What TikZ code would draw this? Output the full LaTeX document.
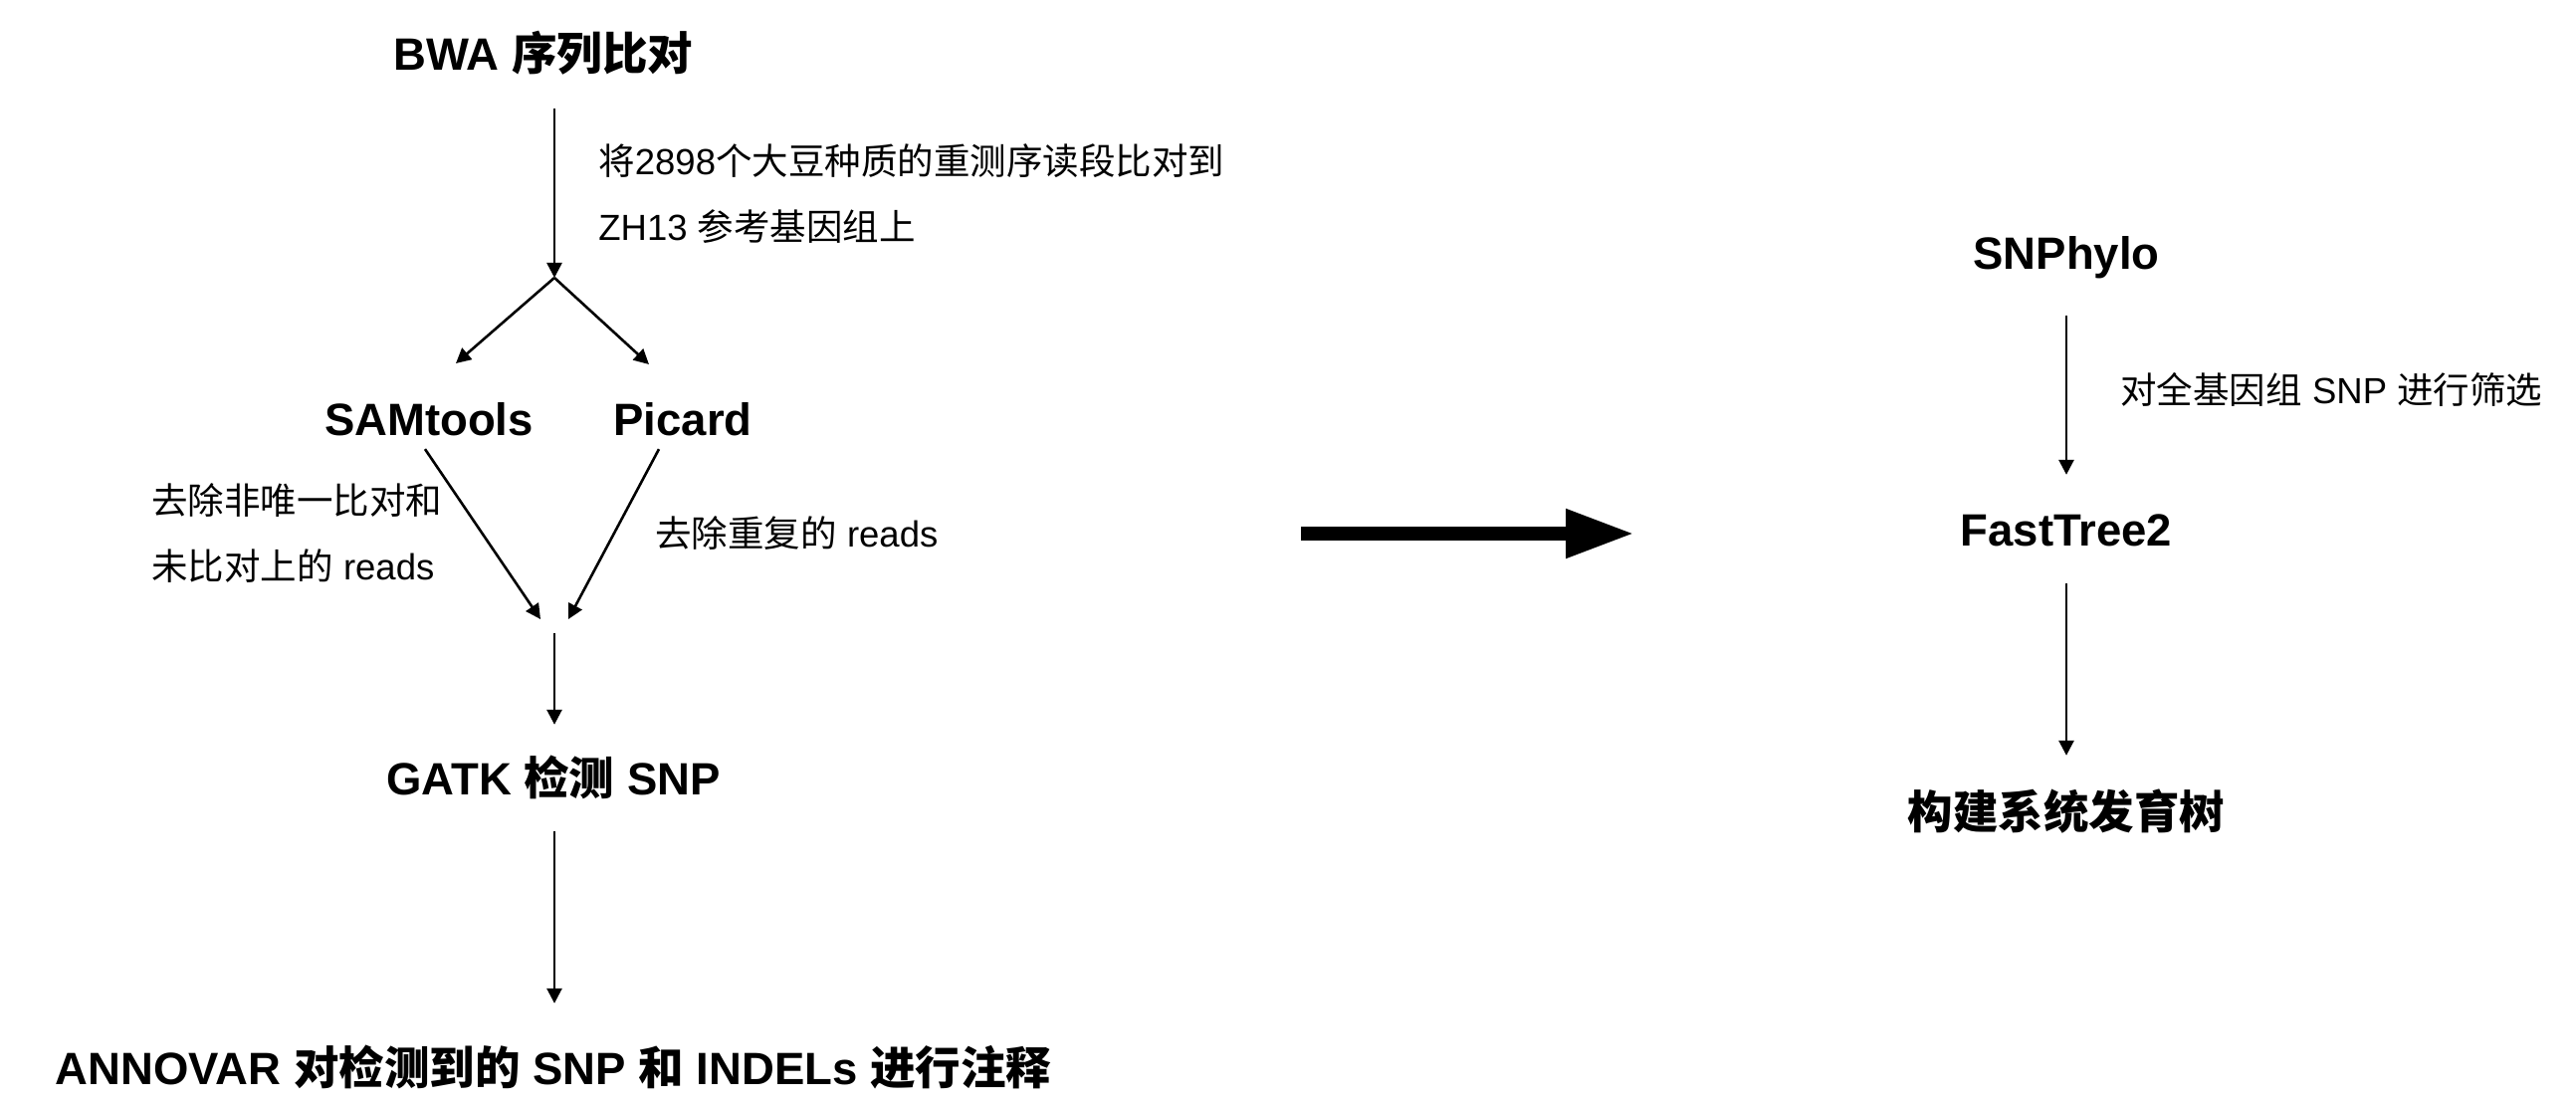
\documentclass[tikz,border=0pt]{standalone}
\usepackage{fontspec}
\setmainfont{Liberation Sans}
\newfontfamily\cjk{Noto Sans CJK SC}
\newcommand\zh[1]{{\cjk #1}}
\usetikzlibrary{arrows.meta}
\begin{document}
\begin{tikzpicture}[x=0.5pt,y=-0.5pt,
  title/.style={font=\fontsize{22.75}{27}\selectfont\bfseries, inner sep=0, text height=18.2pt, text depth=4.55pt},
  lab/.style={font=\fontsize{18.25}{33}\selectfont, inner sep=0, align=left, anchor=west},
  arr/.style={line width=1.3pt, -{Triangle[length=7.5pt,width=7.5pt]}},
  bigarr/.style={line width=7pt, -{Triangle[length=34.5pt,width=23pt]}}]
\useasboundingbox[fill=white] (0,0) rectangle (2588,1112);

% left flow
\node[title] (bwa) at (546,57) {BWA \zh{序列比对}};
\coordinate (split) at (557,279);
\node[lab] (l1) at (601,195) {\zh{将}2898\zh{个大豆种质的重测序读段比对到}\\ZH13 \zh{参考基因组上}};
\node[title] (sam) at (431,424) {SAMtools};
\node[title] (pic) at (686,424) {Picard};
\coordinate (samin) at (458,365);
\coordinate (picin) at (652,366);
\node[lab] (l2) at (152,536) {\zh{去除非唯一比对和}\\\zh{未比对上的} reads};
\node[lab] (l3) at (658,536) {\zh{去除重复的} reads};
\coordinate (merge) at (557,622);
\node[title] (gatk) at (556,785) {GATK \zh{检测} SNP};
\node[title] (anno) at (556,1076) {ANNOVAR \zh{对检测到的} SNP \zh{和} INDELs \zh{进行注释}};

\draw[arr] ([shift={(0,29)}]bwa.south -| split) -- (split);
\draw[arr] (split) -- (samin);
\draw[arr] (split) -- (picin);
\draw[arr] ([shift={(-4,4)}]sam.south) -- ([shift={(-14,0)}]merge);
\draw[arr] ([shift={(-24,4)}]pic.south) -- ([shift={(14,0)}]merge);
\draw[arr] ([shift={(0,14)}]merge) -- ([shift={(1,-34)}]gatk.north);
\draw[arr] ([shift={(1,27)}]gatk.south) -- ([shift={(1,-45)}]anno.north);

% big arrow
\coordinate (bigs) at (1307,536);
\coordinate (bige) at (1642,536);
\draw[bigarr] (bigs) -- (bige);

% right flow
\node[title] (snp) at (2076,257) {SNPhylo};
\node[lab] (l4) at (2130,391) {\zh{对全基因组} SNP \zh{进行筛选}};
\node[title] (ft) at (2076,535) {FastTree2};
\node[title] (tree) at (2076,819) {\zh{构建系统发育树}};
\draw[arr] ([shift={(0,37)}]snp.south) -- ([shift={(0,-35)}]ft.north);
\draw[arr] ([shift={(0,28)}]ft.south) -- ([shift={(0,-37)}]tree.north);
\end{tikzpicture}
\end{document}
